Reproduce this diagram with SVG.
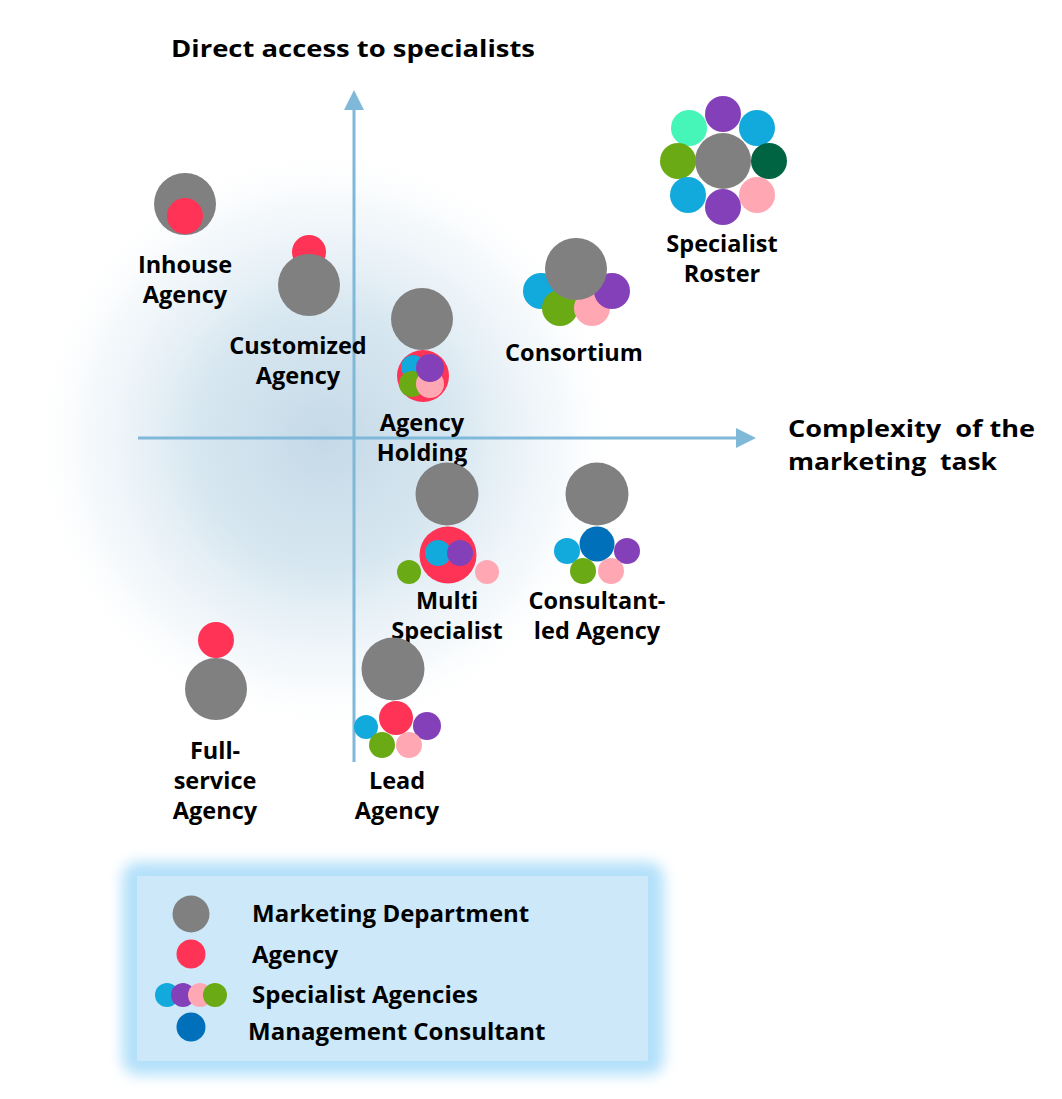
<svg xmlns="http://www.w3.org/2000/svg" width="1062" height="1099" viewBox="0 0 1062 1099">
<defs>
<radialGradient id="bg" cx="325" cy="440" r="295" gradientUnits="userSpaceOnUse">
<stop offset="0" stop-color="#c4d9e7" stop-opacity="1"/>
<stop offset="0.45" stop-color="#d1e3ee" stop-opacity="0.85"/>
<stop offset="0.8" stop-color="#e8f1f7" stop-opacity="0.45"/>
<stop offset="1" stop-color="#ffffff" stop-opacity="0"/>
</radialGradient>
<filter id="glow" x="-20%" y="-20%" width="140%" height="140%">
<feGaussianBlur stdDeviation="7"/>
</filter>
<marker id="arr" viewBox="0 0 20 20" refX="0" refY="10" markerWidth="20" markerHeight="20" markerUnits="userSpaceOnUse" orient="auto">
<path d="M0,0 L20,10 L0,20 Z" fill="#7fb8d9"/>
</marker>
<style>
text{font-family:"Open Sans","Noto Sans","DejaVu Sans",sans-serif;font-weight:700;fill:#000;}
.lbl{font-size:23.5px;text-anchor:middle;}
.ax{font-size:24px;white-space:pre;}
.leg{font-size:24px;}
.g{fill:#808080}
.r{fill:#ff3355}
.c{fill:#12a9dc}
.p{fill:#8440b8}
.gr{fill:#6aaa14}
.pk{fill:#ffa8b4}
.dg{fill:#006341}
.mt{fill:#45f6b8}
.db{fill:#0070bb}
.axis{stroke:#7fb8d9;stroke-width:3;fill:none}
</style>
</defs>
<rect width="1062" height="1099" fill="#ffffff"/>
<ellipse cx="325" cy="440" rx="300" ry="300" fill="url(#bg)"/>

<g id="connectors">
<line class="axis" x1="354" y1="762" x2="354" y2="110" marker-end="url(#arr)"/>
<line class="axis" x1="138" y1="438" x2="736" y2="438" marker-end="url(#arr)"/>
</g>

<text class="ax" x="171" y="57" textLength="364" lengthAdjust="spacingAndGlyphs">Direct access to specialists</text>
<text class="ax" x="788" y="437" textLength="247" lengthAdjust="spacingAndGlyphs" xml:space="preserve">Complexity  of the</text>
<text class="ax" x="788" y="470" textLength="209" lengthAdjust="spacingAndGlyphs" xml:space="preserve">marketing  task</text>

<g id="inhouse">
<circle class="g" cx="185" cy="204" r="31"/>
<circle class="r" cx="185" cy="216" r="18"/>
<text class="lbl" x="185" y="273">Inhouse</text>
<text class="lbl" x="185" y="303">Agency</text>
</g>

<g id="customized">
<circle class="r" cx="309" cy="252" r="17"/>
<circle class="g" cx="309" cy="285" r="31"/>
<text class="lbl" x="298" y="354">Customized</text>
<text class="lbl" x="298" y="384">Agency</text>
</g>

<g id="holding">
<circle class="g" cx="422" cy="319" r="31"/>
<circle class="r" cx="423" cy="376" r="26"/>
<circle class="c" cx="413" cy="367" r="12"/>
<circle class="gr" cx="412" cy="384" r="13"/>
<circle class="pk" cx="430" cy="384" r="14"/>
<circle class="p" cx="430" cy="368" r="14"/>
<text class="lbl" x="422" y="431">Agency</text>
<text class="lbl" x="422" y="461">Holding</text>
</g>

<g id="consortium">
<circle class="c" cx="541" cy="291" r="18"/>
<circle class="gr" cx="560" cy="308" r="18"/>
<circle class="pk" cx="592" cy="308" r="18"/>
<circle class="p" cx="612" cy="291" r="18"/>
<circle class="g" cx="576" cy="269" r="31"/>
<text class="lbl" x="574" y="361">Consortium</text>
</g>

<g id="roster">
<circle class="p" cx="723" cy="114" r="18"/>
<circle class="mt" cx="689" cy="128" r="18"/>
<circle class="c" cx="757" cy="128" r="18"/>
<circle class="g" cx="723" cy="161" r="28"/>
<circle class="gr" cx="678" cy="161" r="18"/>
<circle class="dg" cx="769" cy="161" r="18"/>
<circle class="c" cx="688" cy="195" r="18"/>
<circle class="pk" cx="757" cy="195" r="18"/>
<circle class="p" cx="723" cy="207" r="18"/>
<text class="lbl" x="722" y="252">Specialist</text>
<text class="lbl" x="722" y="282">Roster</text>
</g>

<g id="multi">
<circle class="g" cx="447" cy="494" r="31.5"/>
<circle class="r" cx="448" cy="555" r="28.5"/>
<circle class="c" cx="438" cy="553" r="13"/>
<circle class="p" cx="460" cy="553" r="13"/>
<circle class="gr" cx="409" cy="572" r="12"/>
<circle class="pk" cx="487" cy="572" r="12"/>
<text class="lbl" x="447" y="609">Multi</text>
<text class="lbl" x="447" y="639">Specialist</text>
</g>

<g id="consultant">
<circle class="g" cx="597" cy="494" r="31.5"/>
<circle class="c" cx="567" cy="551" r="13"/>
<circle class="p" cx="627" cy="551" r="13"/>
<circle class="db" cx="597" cy="544" r="17.5"/>
<circle class="gr" cx="583" cy="571" r="13"/>
<circle class="pk" cx="611" cy="571" r="13"/>
<text class="lbl" x="597" y="609">Consultant-</text>
<text class="lbl" x="597" y="639">led Agency</text>
</g>

<g id="fullservice">
<circle class="r" cx="216" cy="640" r="18"/>
<circle class="g" cx="216" cy="689" r="31"/>
<text class="lbl" x="215" y="759">Full-</text>
<text class="lbl" x="215" y="789">service</text>
<text class="lbl" x="215" y="819">Agency</text>
</g>

<g id="lead">
<circle class="g" cx="393" cy="669" r="31.5"/>
<circle class="c" cx="366" cy="727" r="12"/>
<circle class="p" cx="427" cy="726" r="14"/>
<circle class="r" cx="396" cy="718" r="17"/>
<circle class="gr" cx="382" cy="745" r="13"/>
<circle class="pk" cx="409" cy="745" r="13"/>
<text class="lbl" x="397" y="789">Lead</text>
<text class="lbl" x="397" y="819">Agency</text>
</g>

<g id="legend">
<rect x="122" y="862" width="542" height="213" rx="16" fill="#b3e0fa" filter="url(#glow)"/>
<rect x="137" y="876" width="511" height="185" fill="#cde9f9"/>
<circle class="g" cx="191" cy="914" r="18.5"/>
<circle class="r" cx="191" cy="954" r="14.5"/>
<circle class="c" cx="167" cy="995" r="12"/>
<circle class="p" cx="183" cy="995" r="12"/>
<circle class="pk" cx="200" cy="995" r="12"/>
<circle class="gr" cx="215" cy="995" r="12"/>
<circle class="db" cx="191" cy="1027" r="14.5"/>
<text class="leg" x="252" y="922">Marketing Department</text>
<text class="leg" x="252" y="963">Agency</text>
<text class="leg" x="252" y="1003">Specialist Agencies</text>
<text class="leg" x="248" y="1040">Management Consultant</text>
</g>
</svg>
